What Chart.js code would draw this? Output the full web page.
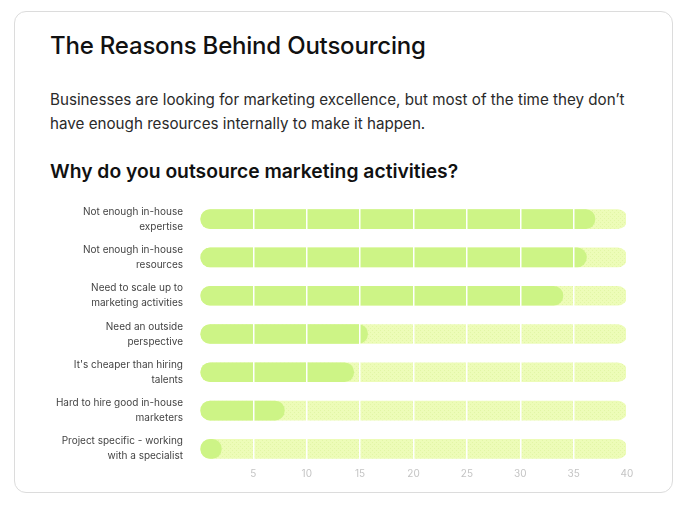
<!DOCTYPE html>
<html>
<head>
<meta charset="utf-8">
<script src="https://cdn.jsdelivr.net/npm/chart.js@4"></script>
<style>
  html, body { margin: 0; padding: 0; background: #fff; width: 687px; height: 510px; overflow: hidden; }
  .card { position: absolute; left: 14px; top: 11px; width: 659px; height: 482px; border: 1px solid #dcdcdc; border-radius: 12px; box-sizing: border-box; }
  h1 { position: absolute; left: 50px; top: 31px; margin: 0; font-family: Inter, sans-serif; font-weight: 500; font-size: 24px; color: #111; letter-spacing: -0.2px; white-space: nowrap; }
  p { position: absolute; left: 50px; top: 88px; margin: 0; font-family: Inter, sans-serif; font-size: 15.2px; line-height: 24px; color: #2a2a2a; width: 600px; }
  h2 { position: absolute; left: 50px; top: 159px; margin: 0; font-family: Inter, sans-serif; font-weight: 600; font-size: 19.3px; color: #111; letter-spacing: 0; white-space: nowrap; }
  #c { position: absolute; left: 30px; top: 168px; }
</style>
</head>
<body>
<div class="card"></div>
<h1>The Reasons Behind Outsourcing</h1>
<p>Businesses are looking for marketing excellence, but most of the time they don’t have enough resources internally to make it happen.</p>
<h2>Why do you outsource marketing activities?</h2>
<canvas id="c" width="610" height="332"></canvas>
<script>
const categories = [
  ["Not enough in-house", "expertise"],
  ["Not enough in-house", "resources"],
  ["Need to scale up to", "marketing activities"],
  ["Need an outside", "perspective"],
  ["It's cheaper than hiring", "talents"],
  ["Hard to hire good in-house", "marketers"],
  ["Project specific - working", "with a specialist"]
];
const values = [37, 36.2, 34, 15.7, 14.4, 7.9, 2];
const trackMax = [40, 40, 40, 40, 40, 40, 40];
const tickValues = [5, 10, 15, 20, 25, 30, 35, 40];

function dotPattern() {
  const c = document.createElement('canvas');
  c.width = 4; c.height = 4;
  const g = c.getContext('2d');
  g.fillStyle = '#edfcb8';
  g.fillRect(0, 0, 4, 4);
  g.fillStyle = '#e2f6a6';
  g.fillRect(0, 0, 1, 1);
  g.fillRect(2, 2, 1, 1);
  return g.createPattern(c, 'repeat');
}

new Chart(document.getElementById('c'), {
  type: 'bar',
  data: {
    labels: categories,
    datasets: [
      { data: values, backgroundColor: '#cdf486', barThickness: 19, borderRadius: 10, borderSkipped: false, grouped: false, order: 0 },
      { data: trackMax, backgroundColor: dotPattern(), barThickness: 19, borderRadius: 10, borderSkipped: false, grouped: false, order: 1 }
    ]
  },
  options: {
    indexAxis: 'y',
    responsive: false,
    animation: false,
    layout: { padding: { top: 0, right: 13, bottom: 0, left: 0 } },
    plugins: { legend: { display: false }, tooltip: { enabled: false } },
    scales: {
      x: {
        min: 0, max: 40,
        afterBuildTicks: (s) => { s.ticks = [0].concat(tickValues).map(v => ({ value: v })); },
        grid: { z: 1, color: (ctx) => ctx.tick && ctx.tick.value === 0 ? 'rgba(0,0,0,0)' : '#ffffff', lineWidth: 1.5, drawTicks: false },
        border: { display: false },
        ticks: { padding: 0, color: '#c4c4c4', font: { family: 'Inter', size: 10 }, callback: (v) => v === 0 ? '' : v }
      },
      y: {
        afterFit: (s) => { s.width = 170; },
        grid: { display: false, drawTicks: false },
        border: { display: false },
        ticks: { padding: 17, color: '#444', font: { family: 'Inter', size: 10, lineHeight: 1.5 } }
      }
    }
  }
});
</script>
</body>
</html>
